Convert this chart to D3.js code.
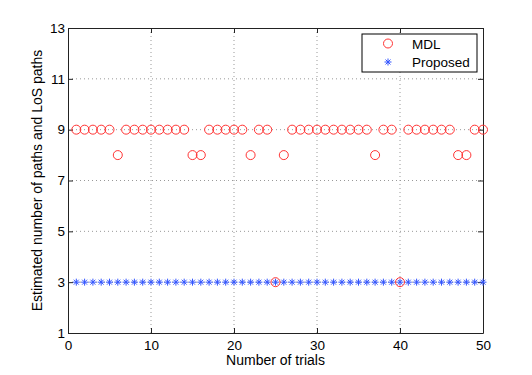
<!DOCTYPE html>
<html>
<head>
<meta charset="utf-8">
<script src="https://cdn.jsdelivr.net/npm/d3@7"></script>
<style>
  body { margin: 0; background: #fff; }
  text { font-family: "Liberation Sans", Arial, sans-serif; }
</style>
</head>
<body>
<script>
let width = 532;
let height = 375;

// data
let trials = d3.range(1, 51);
let mdl = [9, 9, 9, 9, 9, 8, 9, 9, 9, 9,
           9, 9, 9, 9, 8, 8, 9, 9, 9, 9,
           9, 8, 9, 9, 3, 8, 9, 9, 9, 9,
           9, 9, 9, 9, 9, 9, 8, 9, 9, 3,
           9, 9, 9, 9, 9, 9, 8, 8, 9, 9];
let proposed = trials.map(function() { return 3; });
let xTicks = [0, 10, 20, 30, 40, 50];
let yTicks = [1, 3, 5, 7, 9, 11, 13];

let margin = { left: 68, right: 49, top: 28, bottom: 42 };

let xScale = d3.scaleLinear()
    .domain([0, 50])
    .range([margin.left, width - margin.right]);

let yScale = d3.scaleLinear()
    .domain([1, 13])
    .range([height - margin.bottom, margin.top]);

let svg = d3.select("body")
    .append("svg")
    .attr("width", width)
    .attr("height", height);

// grid
svg.append("g")
    .selectAll("line")
    .data(xTicks.slice(1, -1))
    .enter()
    .append("line")
    .attr("x1", d => xScale(d))
    .attr("x2", d => xScale(d))
    .attr("y1", yScale(1))
    .attr("y2", yScale(13))
    .attr("stroke", "#999")
    .attr("stroke-width", 1)
    .attr("stroke-dasharray", "1,3");

svg.append("g")
    .selectAll("line")
    .data(yTicks.slice(1, -1))
    .enter()
    .append("line")
    .attr("x1", xScale(0))
    .attr("x2", xScale(50))
    .attr("y1", d => yScale(d))
    .attr("y2", d => yScale(d))
    .attr("stroke", "#999")
    .attr("stroke-width", 1)
    .attr("stroke-dasharray", "1,3");

// axes (ticks inside)
let xAxis = d3.axisBottom(xScale).tickValues(xTicks).tickSizeInner(-5).tickSizeOuter(0).tickPadding(7);
let yAxis = d3.axisLeft(yScale).tickValues(yTicks).tickSizeInner(-5).tickSizeOuter(0).tickPadding(3);

svg.append("g")
    .attr("transform", "translate(0," + yScale(1) + ")")
    .call(xAxis);
svg.append("g")
    .attr("transform", "translate(" + xScale(0) + ",0)")
    .call(yAxis);
svg.append("g")
    .attr("transform", "translate(0," + yScale(13) + ")")
    .call(d3.axisTop(xScale).tickValues(xTicks).tickSizeInner(-5).tickSizeOuter(0).tickFormat(""));
svg.append("g")
    .attr("transform", "translate(" + xScale(50) + ",0)")
    .call(d3.axisRight(yScale).tickValues(yTicks).tickSizeInner(-5).tickSizeOuter(0).tickFormat(""));

svg.selectAll(".domain").attr("stroke", "#222");
svg.selectAll(".tick line").attr("stroke", "#222");
svg.selectAll(".tick text")
    .attr("font-size", "13.5px")
    .attr("font-family", "Liberation Sans, Arial, sans-serif")
    .attr("fill", "#000");

// asterisk marker
function asterisk(g, cx, cy, r) {
    let p = "M" + (cx - r) + "," + cy + "H" + (cx + r) +
            "M" + cx + "," + (cy - r) + "V" + (cy + r);
    let d = r * 0.7071;
    p += "M" + (cx - d) + "," + (cy - d) + "L" + (cx + d) + "," + (cy + d);
    p += "M" + (cx - d) + "," + (cy + d) + "L" + (cx + d) + "," + (cy - d);
    g.append("path").attr("d", p).attr("stroke", "#3355ff").attr("stroke-width", 1).attr("fill", "none");
}

// proposed
let gp = svg.append("g");
proposed.forEach(function(v, i) {
    asterisk(gp, xScale(trials[i]), yScale(v), 3.5);
});

// mdl
svg.append("g")
    .selectAll("circle")
    .data(mdl)
    .enter()
    .append("circle")
    .attr("cx", (d, i) => xScale(trials[i]))
    .attr("cy", d => yScale(d))
    .attr("r", 4.5)
    .attr("fill", "none")
    .attr("stroke", "#ff3333")
    .attr("stroke-width", 1);

// labels
svg.append("text")
    .text("Number of trials")
    .attr("x", xScale(25))
    .attr("y", 365)
    .attr("text-anchor", "middle")
    .attr("font-size", "14px");

svg.append("text")
    .text("Estimated number of paths and LoS paths")
    .attr("transform", "translate(42," + yScale(7) + ") rotate(-90)")
    .attr("text-anchor", "middle")
    .attr("font-size", "14px");

// legend
let lg = svg.append("g");
lg.append("rect")
    .attr("x", 362).attr("y", 34)
    .attr("width", 115).attr("height", 38)
    .attr("fill", "#fff").attr("stroke", "#000");
lg.append("circle")
    .attr("cx", 388).attr("cy", 43.5).attr("r", 4.5)
    .attr("fill", "none").attr("stroke", "#ff3333");
asterisk(lg, 388, 62, 3.5);
lg.append("text").text("MDL").attr("x", 412).attr("y", 48.5).attr("font-size", "13.5px");
lg.append("text").text("Proposed").attr("x", 412).attr("y", 67).attr("font-size", "13.5px");
</script>
</body>
</html>
